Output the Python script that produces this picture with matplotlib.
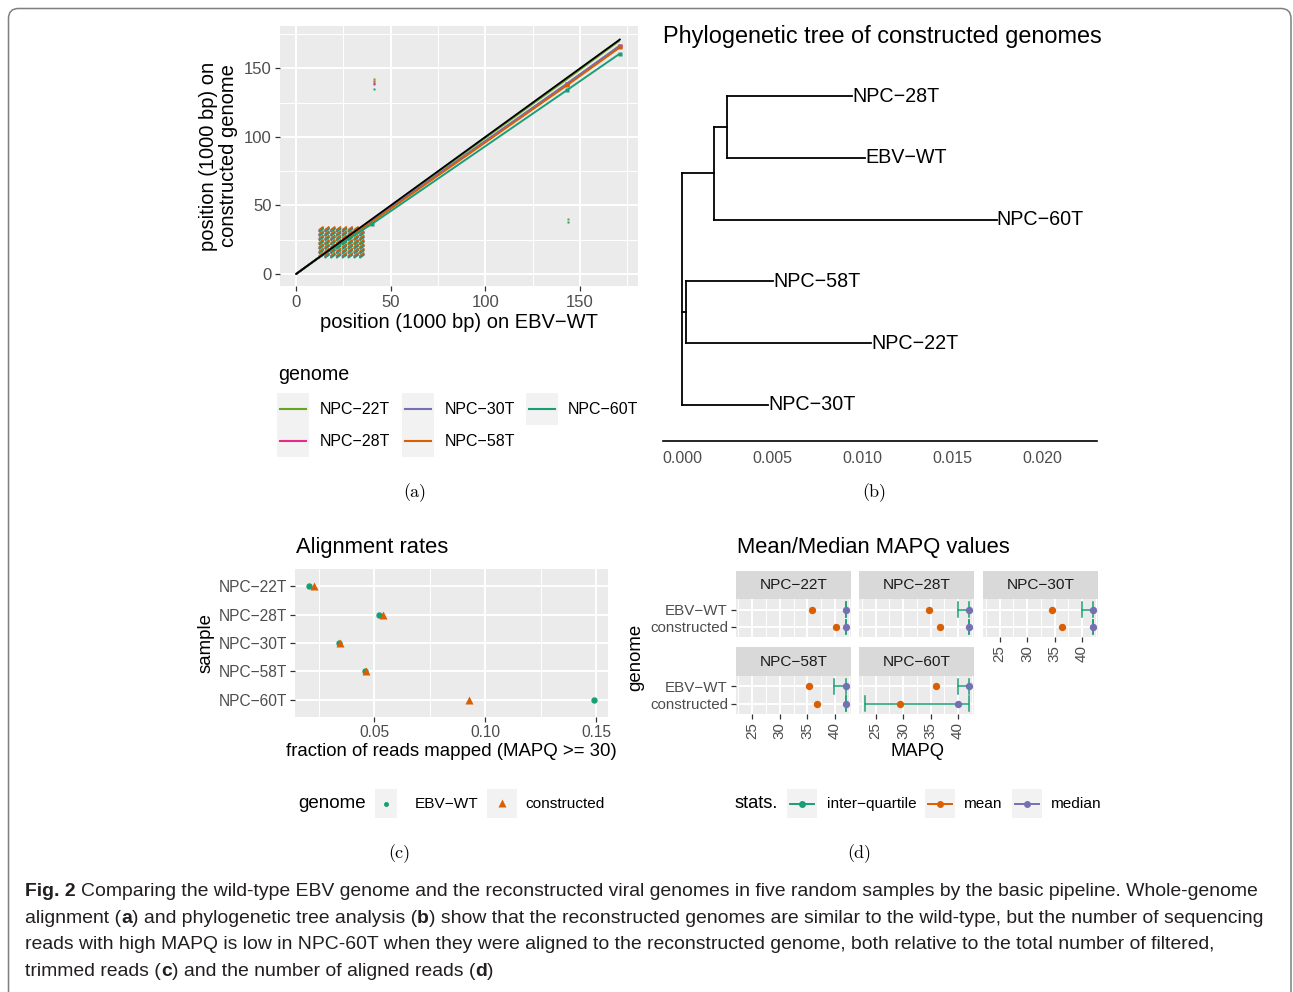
import matplotlib
matplotlib.use('Agg')
import matplotlib.pyplot as plt
from matplotlib import font_manager
from matplotlib.font_manager import FontProperties
from matplotlib.collections import LineCollection
from matplotlib.patches import FancyBboxPatch, Rectangle
from matplotlib.transforms import IdentityTransform

plt.rcParams['font.family'] = ['Liberation Sans', 'DejaVu Sans']

# ---------------- data ----------------
samples = ['NPC−22T', 'NPC−28T', 'NPC−30T', 'NPC−58T', 'NPC−60T']
sample_colors = ['#66A61E', '#E7298A', '#7570B3', '#D95F02', '#1B9E77']

# (a) whole-genome alignment: breakpoints on EBV-WT (x) and on constructed genome (y), 1000 bp
aln_ref_x = [0, 12, 40, 143, 171]
aln_wt_y = [0, 12, 40, 143, 171]
aln_22T_y = [0, 12, 39.5, 142.0, 170.3]
aln_28T_y = [0, 12, 38.6, 138.5, 166.2]
aln_30T_y = [0, 12, 38.8, 138.8, 166.6]
aln_58T_y = [0, 12, 38.0, 137.5, 165.2]
aln_60T_y = [0, 12, 36.4, 134.0, 160.7]
# repeat region (IR1) hits: repeat-unit starts on EBV-WT and on each constructed genome
rep_x = [12.0, 15.1, 18.2, 21.2, 24.3, 27.4, 30.5, 33.5]
rep_22T_y = [12.2, 15.4, 18.6, 21.7, 24.9, 28.1, 31.2]
rep_28T_y = [12.0, 15.2, 18.4, 21.5, 24.7, 27.9, 31.0]
rep_30T_y = [12.5, 15.7, 18.9, 22.0, 25.2, 28.4, 31.5]
rep_58T_y = [13.1, 16.3, 19.5, 22.6, 25.8, 29.0, 32.1]
rep_60T_y = [11.6, 14.8, 18.0, 21.1, 24.3, 27.5, 30.6]
rep_len = 2.5
# short off-diagonal hits
stray_x = [41, 41, 41, 41, 41, 143.5, 143.5]
stray_y = [135.0, 138.6, 139.6, 140.6, 142.3, 38.0, 39.8]
stray_sample = [4, 2, 1, 3, 0, 4, 0]

# (b) phylogenetic tree
tree_nodes = ['root', 'A', 'AB', 'C', 'NPC−28T', 'EBV−WT', 'NPC−60T', 'NPC−58T', 'NPC−22T', 'NPC−30T']
tree_parent = [None, 'root', 'A', 'root', 'AB', 'AB', 'A', 'C', 'C', 'root']
tree_x = [0.0, 0.00178, 0.00252, 0.0002, 0.00946, 0.01017, 0.01748, 0.00507, 0.0105, 0.0048]
tip_order = ['NPC−30T', 'NPC−22T', 'NPC−58T', 'NPC−60T', 'EBV−WT', 'NPC−28T']
tree_ticks = [0.000, 0.005, 0.010, 0.015, 0.020]
tree_tick_labels = ['0.000', '0.005', '0.010', '0.015', '0.020']

# (c) alignment rates
rate_wt = [0.0205, 0.0523, 0.0341, 0.0457, 0.149]
rate_con = [0.0227, 0.0538, 0.0347, 0.0463, 0.0929]
rate_ticks = [0.05, 0.10, 0.15]
rate_tick_labels = ['0.05', '0.10', '0.15']

# (d) MAPQ stats, per sample: [EBV-WT, constructed]
mapq_genomes = ['EBV−WT', 'constructed']
mapq_mean = [[35.9, 40.3], [34.8, 36.7], [34.6, 36.4], [35.3, 36.7], [35.9, 29.5]]
mapq_median = [[42, 42], [42, 42], [42, 42], [42, 42], [42, 40]]
mapq_q1 = [[42, 42], [40, 42], [39.9, 42], [39.9, 42], [40, 23]]
mapq_q3 = [[42, 42], [42, 42], [42, 42], [42, 42], [42, 42]]
mapq_ticks = [25, 30, 35, 40]

TEAL, ORANGE, PURPLE = '#1B9E77', '#D95F02', '#7570B3'

# ---------------- figure ----------------
W, H = 1293, 992
fig = plt.figure(figsize=(W / 100, H / 100), dpi=100)
fig.patch.set_facecolor('white')


def ax_px(l, t, r, b):
    return fig.add_axes([l / W, 1 - b / H, (r - l) / W, (b - t) / H])


ov = ax_px(0, 0, W, H)
ov.set_xlim(0, W)
ov.set_ylim(H, 0)
ov.axis('off')
ov.set_zorder(10)

TICKC, LABC = '#333333', '#4D4D4D'


def gg(ax, xmaj, xmin, ymaj, ymin, xlim, ylim):
    ax.set_facecolor('#EBEBEB')
    for s in ax.spines.values():
        s.set_visible(False)
    ax.set_xlim(*xlim)
    ax.set_ylim(*ylim)
    ax.set_xticks(xmaj)
    ax.set_xticks(xmin, minor=True)
    ax.set_yticks(ymaj)
    ax.set_yticks(ymin, minor=True)
    ax.grid(True, which='major', color='white', lw=1.4)
    ax.grid(True, which='minor', color='white', lw=0.7)
    ax.set_axisbelow(True)
    ax.tick_params(which='major', length=3.6, width=0.9, color=TICKC, labelcolor=LABC)
    ax.tick_params(which='minor', length=0)


# ---------- panel a ----------
axa = ax_px(280, 26, 638, 286)
gg(axa, [0, 50, 100, 150], [25, 75, 125, 175], [0, 50, 100, 150], [25, 75, 125, 175],
   (-8.5, 180.6), (-8.75, 180.85))
axa.set_xticklabels(['0', '50', '100', '150'])
axa.set_yticklabels(['0', '50', '100', '150'])
axa.tick_params(labelsize=12)
axa.tick_params(axis='x', pad=3.2)
axa.tick_params(axis='y', pad=2.2)

aln_y = [aln_22T_y, aln_28T_y, aln_30T_y, aln_58T_y, aln_60T_y]
rep_y = [rep_22T_y, rep_28T_y, rep_30T_y, rep_58T_y, rep_60T_y]
for i in range(5):
    segs = [[(x, y), (x + rep_len, y + rep_len)] for x in rep_x for y in rep_y[i]]
    axa.add_collection(LineCollection(segs, colors=sample_colors[i], lw=1.2, zorder=2,
                                      capstyle='butt'))
for i in range(5):
    axa.plot(aln_ref_x, aln_y[i], color=sample_colors[i], lw=1.4, zorder=3, solid_capstyle='butt')
for i in [1, 2, 3, 4]:
    axa.plot(aln_ref_x[3:], aln_y[i][3:], 's', color=sample_colors[i], ms=3.0, mec='none', zorder=4)
axa.plot([aln_ref_x[2]], [aln_60T_y[2]], 's', color=TEAL, ms=2.8, mec='none', zorder=4)
axa.plot(aln_ref_x, aln_wt_y, color='black', lw=1.3, zorder=5)
for x, y, si in zip(stray_x, stray_y, stray_sample):
    axa.plot([x], [y], 's', color=sample_colors[si], ms=1.5, mec='none', zorder=4)

ov.text(459, 323, 'position (1000 bp) on EBV−WT', size=14.5, ha='center', va='center')
ov.text(208, 156, 'position (1000 bp) on', size=14.5, ha='center', va='center', rotation=90)
ov.text(229, 156, 'constructed genome', size=14.5, ha='center', va='center', rotation=90)

# legend a
ov.text(278, 375, 'genome', size=14.1, ha='left', va='center')
col_x = [277.3, 402.3, 526.0]
row_y = [392.7, 425.0]
for i, s in enumerate(samples):
    c, r = i // 2, i % 2
    ov.add_patch(Rectangle((col_x[c], row_y[r]), 31.7, 32.0, fc='#F2F2F2', ec='none'))
    ov.plot([col_x[c] + 3, col_x[c] + 29], [row_y[r] + 16, row_y[r] + 16], color=sample_colors[i], lw=1.5)
    ov.text(col_x[c] + 42, row_y[r] + 16.5, s, size=11.5, ha='left', va='center')

# ---------- panel b ----------
axb = ax_px(663, 65, 1097, 441)
axb.set_xlim(-0.00106, 0.02306)
axb.set_ylim(-0.583, 5.502)
for k in ['top', 'right', 'left']:
    axb.spines[k].set_visible(False)
axb.spines['bottom'].set_linewidth(1.2)
axb.spines['bottom'].set_color('black')
axb.set_yticks([])
axb.set_xticks(tree_ticks)
axb.set_xticklabels(tree_tick_labels)
axb.tick_params(axis='x', length=0, pad=7, labelsize=11.5, labelcolor=LABC)
axb.patch.set_visible(False)

nx = dict(zip(tree_nodes, tree_x))
par = dict(zip(tree_nodes, tree_parent))
children = {n: [c for c in tree_nodes if par[c] == n] for n in tree_nodes}
ny = {}


def node_y(n):
    if n in tip_order:
        ny[n] = tip_order.index(n)
    else:
        ny[n] = sum(node_y(c) for c in children[n]) / len(children[n])
    return ny[n]


node_y('root')
for n in tree_nodes:
    if children[n]:
        ys = [ny[c] for c in children[n]]
        axb.plot([nx[n], nx[n]], [min(ys), max(ys)], color='black', lw=1.3, solid_capstyle='projecting')
    if par[n] is not None:
        axb.plot([nx[par[n]], nx[n]], [ny[n], ny[n]], color='black', lw=1.3, solid_capstyle='projecting')
for n in tip_order:
    axb.text(nx[n], ny[n], n, size=14.2, ha='left', va='center')
ov.text(663, 36, 'Phylogenetic tree of constructed genomes', size=16.9, ha='left', va='center')

# ---------- panel c ----------
axc = ax_px(295.3, 569.3, 607.7, 716.7)
ypos = [len(samples) - i for i in range(len(samples))]
gg(axc, rate_ticks, [0.025, 0.075, 0.125], ypos, [], (0.01437, 0.15528), (0.4, 5.6))
axc.set_xticklabels(rate_tick_labels)
axc.set_yticklabels(samples)
axc.tick_params(labelsize=11.2)
axc.tick_params(axis='y', pad=2.6)
axc.tick_params(axis='x', pad=2.4)
axc.plot(rate_wt, ypos, 'o', color=TEAL, ms=4.6, mec='none', zorder=3)
axc.plot(rate_con, ypos, '^', color=ORANGE, ms=6.0, mec='none', zorder=4)
ov.text(296, 548, 'Alignment rates', size=15.8, ha='left', va='center')
ov.text(206, 643, 'sample', size=13.4, ha='center', va='center', rotation=90)
ov.text(451.5, 751, 'fraction of reads mapped (MAPQ >= 30)', size=13.4, ha='center', va='center')

# legend c
ov.text(298.3, 804, 'genome', size=13.5, ha='left', va='center')
ov.add_patch(Rectangle((375, 789), 21.7, 29.3, fc='#F2F2F2', ec='none'))
ov.plot([385.8], [803.7], 'o', color=TEAL, ms=3.6, mec='none')
ov.text(415, 804, 'EBV−WT', size=11.1, ha='left', va='center')
ov.add_patch(Rectangle((487.3, 789), 29.4, 29.3, fc='#F2F2F2', ec='none'))
ov.plot([502], [803.2], '^', color=ORANGE, ms=5.2, mec='none')
ov.text(525.7, 804, 'constructed', size=11.1, ha='left', va='center')

# ---------- panel d ----------
col_l = [736.0, 859.3, 983.3]
row_t = [599.3, 676.0]
PW, PH, SH = 115.0, 38.0, 28.6
gpos = [2, 1]
for k, s in enumerate(samples):
    r, c = k // 3, k % 3
    l, t = col_l[c], row_t[r]
    ax = ax_px(l, t, l + PW, t + PH)
    gg(ax, mapq_ticks, [22.5, 27.5, 32.5, 37.5, 42.5], gpos, [], (22.05, 42.95), (0.4, 2.6))
    ax.set_xticklabels([str(v) for v in mapq_ticks], rotation=90)
    ax.set_yticklabels(mapq_genomes)
    ax.tick_params(labelsize=10.9)
    ax.tick_params(axis='y', pad=2.2)
    ax.tick_params(axis='x', pad=2.0)
    show_x = (r == 1) or (c == 2)
    if not show_x:
        ax.tick_params(axis='x', length=0, labelbottom=False)
    if c != 0:
        ax.tick_params(axis='y', length=0, labelleft=False)
    for g in range(2):
        yy = gpos[g]
        ax.plot([mapq_q1[k][g], mapq_q3[k][g]], [yy, yy], color=TEAL, lw=1.1, zorder=2)
        for xe in (mapq_q1[k][g], mapq_q3[k][g]):
            ax.plot([xe, xe], [yy - 0.43, yy + 0.43], color=TEAL, lw=1.1, zorder=2)
        ax.plot([mapq_mean[k][g]], [yy], 'o', color=ORANGE, ms=5.3, mec='none', zorder=3)
        ax.plot([mapq_median[k][g]], [yy], 'o', color=PURPLE, ms=5.3, mec='none', zorder=4)
    sax = ax_px(l, t - SH, l + PW, t)
    sax.set_facecolor('#D9D9D9')
    sax.set_xticks([])
    sax.set_yticks([])
    for sp in sax.spines.values():
        sp.set_visible(False)
    sax.text(0.5, 0.5, s, transform=sax.transAxes, size=11.1, color='#1A1A1A', ha='center', va='center')

ov.text(736.7, 548, 'Mean/Median MAPQ values', size=15.8, ha='left', va='center')
ov.text(636, 657, 'genome', size=13.4, ha='center', va='center', rotation=90)
ov.text(917, 751, 'MAPQ', size=13.2, ha='center', va='center')

# legend d
ov.text(734.3, 804, 'stats.', size=13.2, ha='left', va='center')
leg_d = [(787.0, TEAL, 'inter−quartile', 826.7), (925.0, ORANGE, 'mean', 964.3), (1011.7, PURPLE, 'median', 1050.7)]
for kx, col, lab, tx in leg_d:
    ov.add_patch(Rectangle((kx, 789), 30, 29.3, fc='#F2F2F2', ec='none'))
    ov.plot([kx + 3, kx + 27], [803.7, 803.7], color=col, lw=1.4)
    ov.plot([kx + 15], [803.7], 'o', color=col, ms=5.0, mec='none')
    ov.text(tx, 804, lab, size=11.1, ha='left', va='center')

# panel letters
for lx, ly, lab in [(415, 493, '(a)'), (874, 493, '(b)'), (399, 854, '(c)'), (859, 854, '(d)')]:
    ov.text(lx, ly, lab, size=13, family='cmr10', ha='center', va='center')

# frame
fig.add_artist(FancyBboxPatch((8.5, -100), 1282.5, H - 8.5 + 100,
                              boxstyle='round,pad=0,rounding_size=10',
                              transform=IdentityTransform(), fill=False, ec='#7F7F7F', lw=1.1))

# caption
cap_family = 'Liberation Sans'
try:
    font_manager.findfont(FontProperties(family='Liberation Sans Narrow'), fallback_to_default=False)
    cap_family = 'Liberation Sans Narrow'
except Exception:
    pass

cap_lines = [
    [('Fig. 2', True, False),
     ('Comparing the wild-type EBV genome and the reconstructed viral genomes in five random samples by the basic pipeline. Whole-genome', False, True)],
    [('alignment (', False, False), ('a', True, False), (') and phylogenetic tree analysis (', False, False),
     ('b', True, False), (') show that the reconstructed genomes are similar to the wild-type, but the number of sequencing', False, False)],
    [('reads with high MAPQ is low in NPC-60T when they were aligned to the reconstructed genome, both relative to the total number of filtered,', False, False)],
    [('trimmed reads (', False, False), ('c', True, False), (') and the number of aligned reads (', False, False),
     ('d', True, False), (')', False, False)],
]
cap_base = [896, 923, 949, 976]
rend = fig.canvas.get_renderer()


def tw(s, size, bold):
    t = ov.text(0, 500, s, size=size, weight='bold' if bold else 'normal', family=cap_family)
    w = t.get_window_extent(renderer=rend).width
    t.remove()
    return w


def line_w(line, size):
    sp = tw('a a', size, False) - tw('aa', size, False)
    return sum(tw(s, size, b) + (sp if pre else 0) for s, b, pre in line)


size0 = 14.0
cap_size = size0 * 1240.0 / line_w(cap_lines[1], size0)
space = tw('a a', cap_size, False) - tw('aa', cap_size, False)
for line, yb in zip(cap_lines, cap_base):
    x = 25.0
    for s, b, pre in line:
        if pre:
            x += space
        ov.text(x, yb, s, size=cap_size, weight='bold' if b else 'normal', family=cap_family,
                ha='left', va='baseline', color='#231F20')
        x += tw(s, cap_size, b)

fig.savefig('out.png', dpi=100)
